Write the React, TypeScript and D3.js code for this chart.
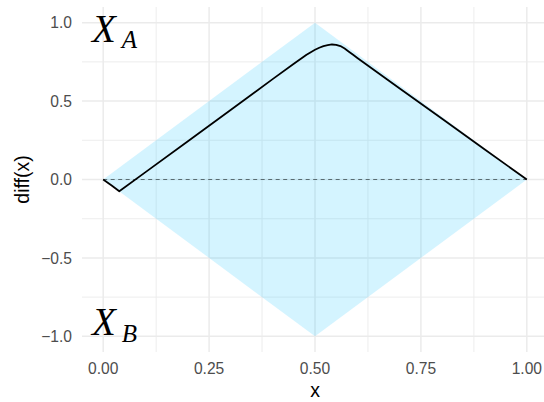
import React, { useEffect, useRef } from 'react';
import * as d3 from 'd3';

// difference curve
const curveX = [0, 0.02, 0.038, 0.1, 0.2, 0.3, 0.4, 0.45, 0.48, 0.49, 0.5, 0.51, 0.52, 0.53, 0.54, 0.55, 0.56, 0.57, 0.58, 0.59, 0.6, 0.7, 0.8, 0.9, 1];
const curveY = [0, -0.038, -0.075, 0.047, 0.244, 0.441, 0.64, 0.738, 0.795, 0.812, 0.827, 0.84, 0.85, 0.857, 0.861, 0.859, 0.851, 0.835, 0.815, 0.795, 0.775, 0.58, 0.387, 0.193, 0];

// shaded diamond bounds
const boundX = [0, 0.5, 1, 0.5];
const boundY = [0, 1, 0, -1];

const xTicks = [0, 0.25, 0.5, 0.75, 1];
const xTickLabels = ['0.00', '0.25', '0.50', '0.75', '1.00'];
const yTicks = [-1, -0.5, 0, 0.5, 1];
const yTickLabels = ['\u22121.0', '\u22120.5', '0.0', '0.5', '1.0'];
const xMinor = [0.125, 0.375, 0.625, 0.875];
const yMinor = [-0.75, -0.25, 0.25, 0.75];

const App = () => {
  const chartRef = useRef<SVGSVGElement>(null);

  useEffect(() => {
    if (!chartRef.current) return;
    const svg = d3.select(chartRef.current);
    svg.selectAll('*').remove();

    const panel = { left: 82, right: 548, top: 7, bottom: 352 };

    const x = d3.scaleLinear()
      .domain([-0.05, 1.05])
      .range([panel.left, panel.right]);
    const y = d3.scaleLinear()
      .domain([-1.1, 1.1])
      .range([panel.bottom, panel.top]);

    const font = '"Liberation Sans", Arial, sans-serif';
    const g = svg.append('g');

    // grid
    g.selectAll('.xminor').data(xMinor).enter().append('line')
      .attr('x1', d => x(d)).attr('x2', d => x(d))
      .attr('y1', panel.top).attr('y2', panel.bottom)
      .attr('stroke', '#EBEBEB').attr('stroke-width', 0.9);
    g.selectAll('.yminor').data(yMinor).enter().append('line')
      .attr('y1', d => y(d)).attr('y2', d => y(d))
      .attr('x1', panel.left).attr('x2', panel.right)
      .attr('stroke', '#EBEBEB').attr('stroke-width', 0.9);
    g.selectAll('.xmajor').data(xTicks).enter().append('line')
      .attr('x1', d => x(d)).attr('x2', d => x(d))
      .attr('y1', panel.top).attr('y2', panel.bottom)
      .attr('stroke', '#EBEBEB').attr('stroke-width', 1.5);
    g.selectAll('.ymajor').data(yTicks).enter().append('line')
      .attr('y1', d => y(d)).attr('y2', d => y(d))
      .attr('x1', panel.left).attr('x2', panel.right)
      .attr('stroke', '#EBEBEB').attr('stroke-width', 1.5);

    // diamond
    const diamond = boundX.map((v, i) => [x(v), y(boundY[i])] as [number, number]);
    g.append('path')
      .attr('d', 'M' + diamond.map(p => p.join(',')).join('L') + 'Z')
      .attr('fill', '#00BFFF')
      .attr('fill-opacity', 0.17);

    // zero reference
    g.append('line')
      .attr('x1', x(0)).attr('x2', x(1))
      .attr('y1', y(0)).attr('y2', y(0))
      .attr('stroke', '#4d5f63')
      .attr('stroke-width', 0.9)
      .attr('stroke-dasharray', '4,3.5');

    // curve
    const line = d3.line<number>()
      .x(d => x(d))
      .y((d, i) => y(curveY[i]));
    g.append('path')
      .datum(curveX)
      .attr('fill', 'none')
      .attr('stroke', 'black')
      .attr('stroke-width', 1.8)
      .attr('stroke-linejoin', 'round')
      .attr('d', line);

    // tick labels
    g.selectAll('.xlab').data(xTicks).enter().append('text')
      .attr('x', d => x(d))
      .attr('y', 374)
      .attr('text-anchor', 'middle')
      .attr('font-family', font)
      .attr('font-size', '15.6px')
      .attr('fill', '#4D4D4D')
      .text((d, i) => xTickLabels[i]);
    g.selectAll('.ylab').data(yTicks).enter().append('text')
      .attr('x', 72)
      .attr('y', d => y(d))
      .attr('dy', '0.36em')
      .attr('text-anchor', 'end')
      .attr('font-family', font)
      .attr('font-size', '15.6px')
      .attr('fill', '#4D4D4D')
      .text((d, i) => yTickLabels[i]);

    // axis titles
    svg.append('text')
      .attr('x', x(0.5))
      .attr('y', 397)
      .attr('text-anchor', 'middle')
      .attr('font-family', font)
      .attr('font-size', '19.5px')
      .attr('fill', 'black')
      .text('x');
    svg.append('text')
      .attr('transform', `translate(29,${y(0)}) rotate(-90)`)
      .attr('text-anchor', 'middle')
      .attr('font-family', font)
      .attr('font-size', '19.5px')
      .attr('fill', 'black')
      .text('diff(x)');

    // region annotations
    const serif = '"Liberation Serif", "DejaVu Serif", serif';
    const labA = svg.append('text')
      .attr('x', 92).attr('y', 42)
      .attr('font-family', serif)
      .attr('font-style', 'italic')
      .attr('font-size', '39px')
      .attr('fill', 'black');
    labA.append('tspan').text('X');
    labA.append('tspan').attr('dx', 6).attr('dy', 6).attr('font-size', '25px').text('A');

    const labB = svg.append('text')
      .attr('x', 92).attr('y', 335)
      .attr('font-family', serif)
      .attr('font-style', 'italic')
      .attr('font-size', '39px')
      .attr('fill', 'black');
    labB.append('tspan').text('X');
    labB.append('tspan').attr('dx', 6).attr('dy', 7).attr('font-size', '25px').text('B');
  }, []);

  return (
    <svg
      ref={chartRef}
      width={544}
      height={402}
      style={{ position: 'absolute', left: 0, top: 0, display: 'block', background: 'white' }}
    ></svg>
  );
};

export default App;
